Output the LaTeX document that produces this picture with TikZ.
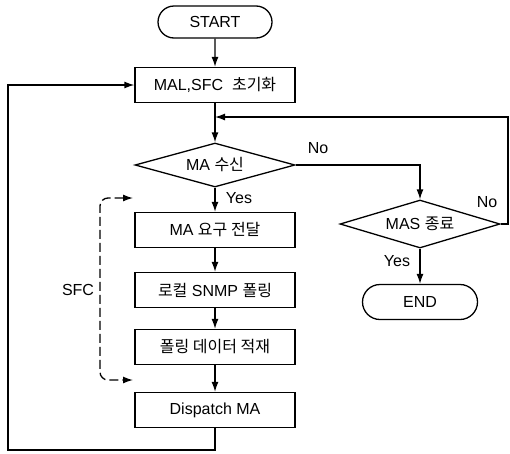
\documentclass[tikz,border=0pt]{standalone}
\usepackage{fontspec}
\setmainfont{Liberation Sans}
\newfontfamily\kr{Noto Sans CJK KR}
\usetikzlibrary{arrows.meta,shapes.geometric,shapes.misc}
\tikzset{
  flow/.style={line width=1.3pt},
  tip/.style={-{Latex[length=10pt,width=7pt]}},
  procbox/.style={draw,flow,minimum width=160pt,minimum height=35pt,inner sep=0pt},
  termbox/.style={draw,flow,rounded rectangle,minimum width=114pt,minimum height=32pt,inner sep=0pt},
  testbox/.style={draw,flow,diamond,aspect=3.6,minimum width=160pt,minimum height=44pt,inner sep=0pt},
  lbl/.style={inner sep=1pt}
}
\begin{document}
\begin{tikzpicture}[x=1pt,y=-1pt,font=\fontsize{16}{19}\selectfont]
\useasboundingbox (0,0) rectangle (510,453);
% main column
\node[termbox] (start) at (215,22) {START};
\node[procbox] (init) at (215,85) {MAL,SFC\ \ {\kr 초기화}};
\node[testbox] (marcv) at (215,165) {MA {\kr 수신}};
\node[procbox] (req) at (215,230) {MA {\kr 요구 전달}};
\node[procbox] (poll) at (215,290) {{\kr 로컬} SNMP {\kr 폴링}};
\node[procbox] (load) at (215,347) {{\kr 폴링 데이터 적재}};
\node[procbox] (disp) at (215,410) {Dispatch MA};
% right column
\node[testbox,minimum height=48pt] (masend) at (420,224) {MAS {\kr 종료}};
\node[termbox,minimum width=115pt,minimum height=35pt] (stop) at (420,302) {END};
% loop points
\coordinate (join) at (215,117);
\coordinate (rjoin) at (508,117);
\coordinate (bot) at (215,450);
\coordinate (lft) at (8,450);
\coordinate (ltop) at (8,85);
% connectors
\draw[flow,tip] (start) -- (init);
\draw[flow,tip] (init) -- (marcv);
\draw[flow,tip] (marcv.east) -| (masend.north);
\draw[flow,tip] (marcv) -- (req);
\draw[flow,tip] (req) -- (poll);
\draw[flow,tip] (poll) -- (load);
\draw[flow,tip] (load) -- (disp);
\draw[flow,tip] (masend) -- (stop);
\draw[flow,tip] (masend.east) -| (rjoin) -- (join);
\draw[flow,tip] (disp.south) -- (bot) -- (lft) -- (ltop) -- (init.west);
% SFC bracket
\draw[flow,dash pattern=on 9pt off 4pt,{Latex[length=10pt,width=7pt]}-{Latex[length=10pt,width=7pt]},rounded corners=8pt]
  (133,198) -- (100,198) -- (100,380) -- (133,380);
\node (sfc) at (78,290) {SFC};
% labels
\node[lbl] (no1) at (318,148) {No};
\node[lbl] (yes1) at (239,198) {Yes};
\node[lbl] (no2) at (487,202) {No};
\node[lbl] (yes2) at (397,261) {Yes};
\end{tikzpicture}
\end{document}
